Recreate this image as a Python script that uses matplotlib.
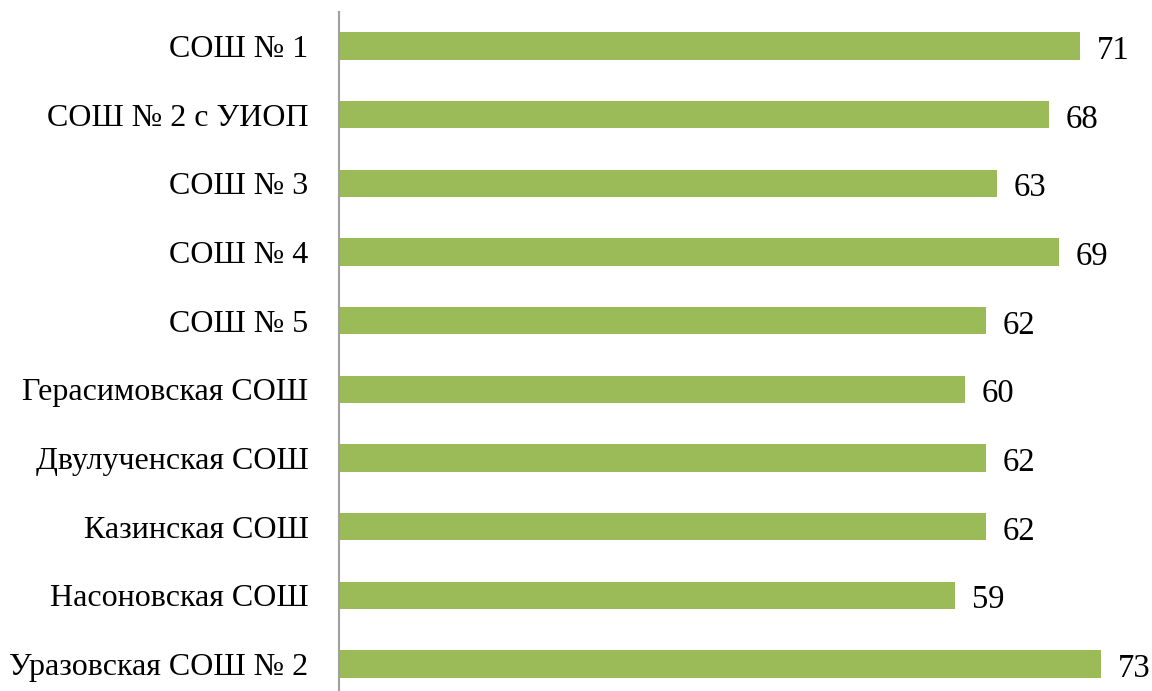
import matplotlib.pyplot as plt

schools = [
    "СОШ № 1",
    "СОШ № 2 с УИОП",
    "СОШ № 3",
    "СОШ № 4",
    "СОШ № 5",
    "Герасимовская СОШ",
    "Двулученская СОШ",
    "Казинская СОШ",
    "Насоновская СОШ",
    "Уразовская СОШ № 2",
]
scores = [71, 68, 63, 69, 62, 60, 62, 62, 59, 73]

plt.rcParams["font.family"] = ["Liberation Serif", "DejaVu Serif"]

W, H = 1152, 691
fig = plt.figure(figsize=(W / 100, H / 100), dpi=100)
# axes in pixel terms: left edge at x=339, top at y=11.7, slot height 68.67 px
x0, top, slot = 339, 11.7, 68.67
ax = fig.add_axes([x0 / W, (H - top - slot * len(schools)) / H,
                   (W - x0) / W, slot * len(schools) / H])

y = list(range(len(schools)))
ax.barh(y, scores, height=0.4, color="#9BBB59")
for yi, v in zip(y, scores):
    ax.text(v + 1.6, yi + 0.19, str(v), va="baseline", ha="left", fontsize=23.5)

ax.set_ylim(len(schools) - 0.5, -0.5)
ax.set_xlim(0, (W - x0) / 10.44)
ax.set_yticks(y)
ax.set_yticklabels(schools, fontsize=23)
ax.tick_params(axis="y", length=0, pad=22)
ax.set_xticks([])
for side in ["top", "right", "bottom"]:
    ax.spines[side].set_visible(False)
ax.spines["left"].set_color("#a0a0a0")
ax.spines["left"].set_linewidth(1.5)

fig.savefig("out.png", dpi=100)
